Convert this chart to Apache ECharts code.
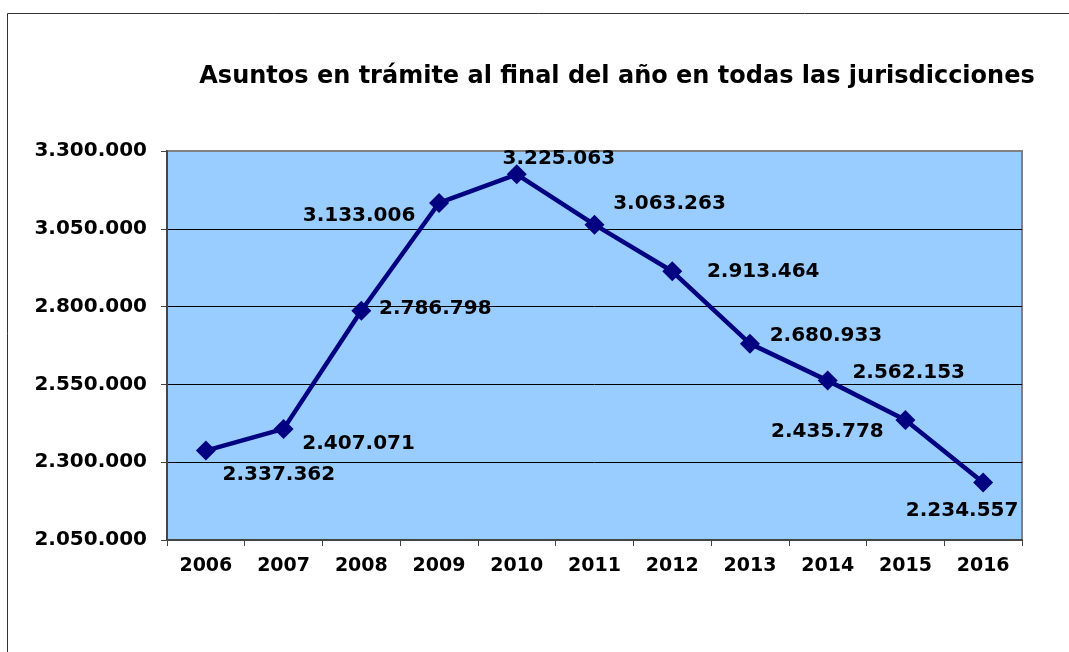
<!DOCTYPE html>
<html>
<head>
<meta charset="utf-8">
<script src="https://cdn.jsdelivr.net/npm/echarts@6/dist/echarts.min.js"></script>
<style>
  html, body { margin: 0; padding: 0; background: #fff; }
  #chart { width: 1069px; height: 652px; }
</style>
</head>
<body>
<div id="chart"></div>
<script>
// datos
var years = ['2006', '2007', '2008', '2009', '2010', '2011', '2012', '2013', '2014', '2015', '2016']
var asuntos = [2337362, 2407071, 2786798, 3133006, 3225063, 3063263, 2913464, 2680933, 2562153, 2435778, 2234557]
// desplazamiento de cada etiqueta respecto a su punto (px)
var labelOffsets = [[73, 24], [75, 15], [74, -2], [-80, 13], [42, -16], [75, -21], [91, 1], [76, -8], [81, -8], [-78, 12], [-21, 28]]

var font = 'DejaVu Sans, Verdana, sans-serif'

function miles(v) {
  return String(v).replace(/\B(?=(\d{3})+(?!\d))/g, '.')
}

var chart = echarts.init(document.getElementById('chart'))
chart.setOption({
  animation: false,
  title: {
    text: 'Asuntos en trámite al final del año en todas las jurisdicciones',
    left: 612,
    textAlign: 'center',
    top: 60,
    textStyle: {
      fontFamily: font,
      fontWeight: 'bold',
      fontSize: 24,
      color: '#000'
    }
  },
  graphic: [{
    type: 'rect',
    shape: { x: 7.5, y: 13.5, width: 1200, height: 800 },
    style: { fill: 'none', stroke: '#333', lineWidth: 1 },
    silent: true
  }],
  grid: {
    left: 167,
    right: 47,
    top: 151,
    bottom: 112,
    show: true,
    backgroundColor: '#99ccff',
    borderColor: '#808080',
    borderWidth: 2
  },
  xAxis: {
    type: 'category',
    data: years,
    boundaryGap: true,
    axisLine: { lineStyle: { color: '#444', width: 2 } },
    axisTick: { show: true, length: 6, lineStyle: { color: '#444', width: 1 } },
    axisLabel: {
      margin: 17,
      fontFamily: font,
      fontWeight: 'bold',
      fontSize: 19,
      color: '#000'
    }
  },
  yAxis: {
    type: 'value',
    min: 2050000,
    max: 3300000,
    interval: 250000,
    axisLine: { show: true, lineStyle: { color: '#444', width: 2 } },
    axisTick: { show: true, length: 6, lineStyle: { color: '#444', width: 1 } },
    splitLine: { lineStyle: { color: ['#000', '#000', '#000', '#000', '#000', '#808080'], width: 1 } },
    axisLabel: {
      margin: 20,
      fontFamily: font,
      fontWeight: 'bold',
      fontSize: 20,
      color: '#000',
      formatter: miles
    }
  },
  series: [{
    type: 'line',
    data: asuntos.map(function (v, i) {
      return {
        value: v,
        label: { offset: labelOffsets[i] }
      }
    }),
    symbol: 'diamond',
    symbolSize: 20,
    lineStyle: { color: '#000080', width: 4.5 },
    itemStyle: { color: '#000080' },
    label: {
      show: true,
      position: 'inside',
      fontFamily: font,
      fontWeight: 'bold',
      fontSize: 20,
      color: '#000',
      formatter: function (p) { return miles(p.value) }
    }
  }]
})
</script>
</body>
</html>
